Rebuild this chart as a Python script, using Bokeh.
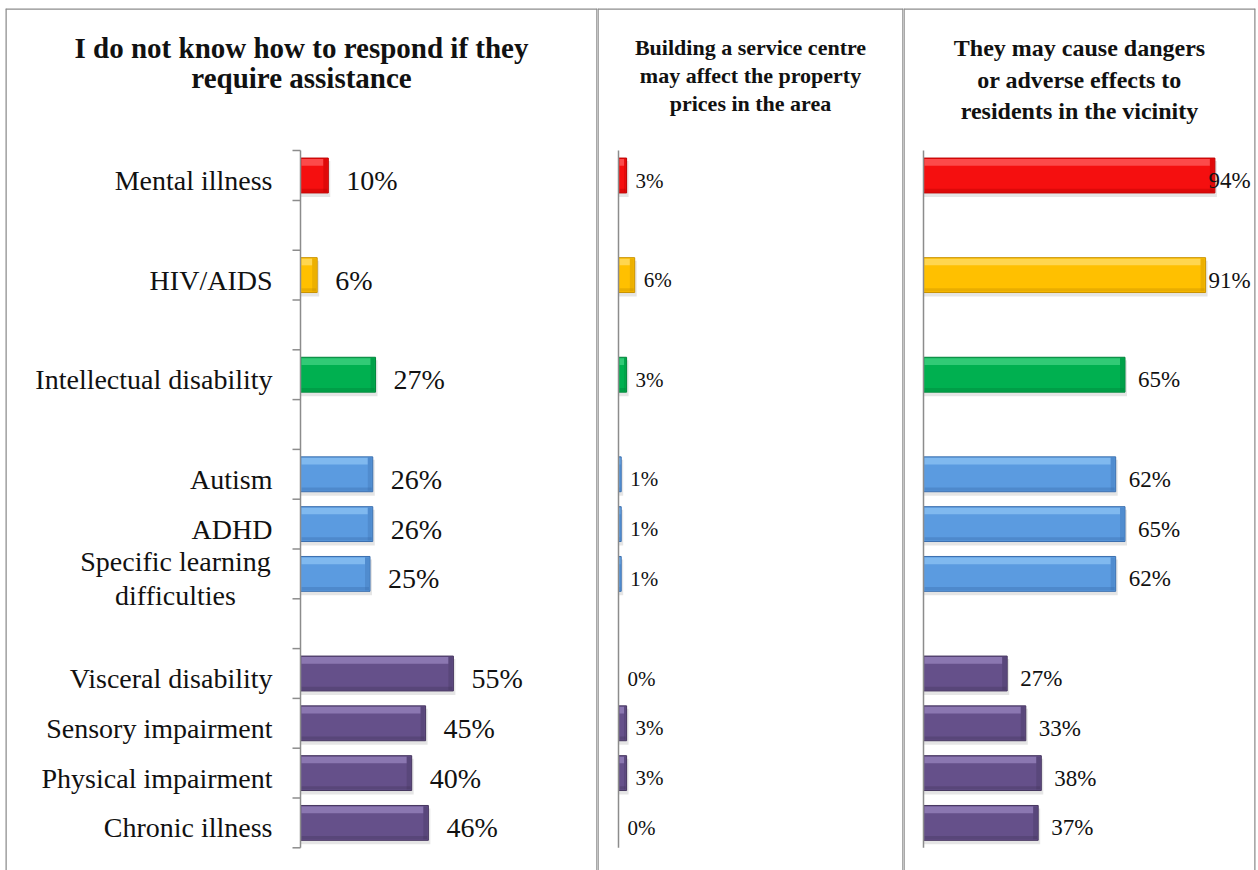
from bokeh.plotting import figure
from bokeh.layouts import row
from bokeh.models import Range1d, ColumnDataSource
from bokeh.core.properties import value
from bokeh.embed import file_html
from bokeh.resources import INLINE

# ---------------- data ----------------
categories = ["Mental illness", "HIV/AIDS", "Intellectual disability", "Autism", "ADHD",
              "Specific learning\ndifficulties", "Visceral disability", "Sensory impairment",
              "Physical impairment", "Chronic illness"]
groups = ["Mental illness", "HIV/AIDS", "Intellectual disability",
          "Developmental", "Developmental", "Developmental",
          "Physical", "Physical", "Physical", "Physical"]
assist_pct = [10, 6, 27, 26, 26, 25, 55, 45, 40, 46]
property_pct = [3, 6, 3, 1, 1, 1, 0, 3, 3, 0]
danger_pct = [94, 91, 65, 62, 65, 62, 27, 33, 38, 37]

title_assist = ["I do not know how to respond if they", "require assistance"]
title_property = ["Building a service centre", "may affect the property", "prices in the area"]
title_danger = ["They may cause dangers", "or adverse effects to", "residents in the vicinity"]

group_colors = {
    "Mental illness": ("#F50F0F", "#FF6A6A", "#B80000"),
    "HIV/AIDS": ("#FFC000", "#FFE27A", "#C99200"),
    "Intellectual disability": ("#00B050", "#4CD88A", "#00843A"),
    "Developmental": ("#5B9BE0", "#95C9F7", "#3B6FAE"),
    "Physical": ("#65508A", "#A08CC6", "#46365F"),
}

# ---------------- layout helpers ----------------
FONT = "Liberation Serif"
FIG_H = 870
TOP_ABS = 8
SLOT_PX = 49.8
FIRST_CENTER_ABS = 175.0
BORDER = "#8C8C8C"


def py(abs_y):
    return (abs_y - FIRST_CENTER_ABS) / SLOT_PX


slots = []
s = 0
prev = None
for g in groups:
    if prev is not None and g != prev:
        s += 1
    slots.append(s)
    s += 1
    prev = g
n_slots = slots[-1] + 1

BAR_H = 0.70


def make_panel(frame_left, frame_width, border_l, border_r, axis_abs, px_per_pct, vals,
               title_lines, title_ys, title_size, label_size, label_gap,
               show_cats=False, show_ticks=False, clamp_right=None):
    axis_px = axis_abs - frame_left
    x0 = -axis_px / px_per_pct
    x1 = (frame_width - axis_px) / px_per_pct
    y_bot, y_top = py(FIG_H), py(TOP_ABS)
    p = figure(width=frame_width + border_l + border_r, height=FIG_H, output_backend="svg",
               toolbar_location=None,
               x_range=Range1d(x0, x1),
               y_range=Range1d(y_bot, y_top),
               min_border=0, min_border_left=border_l, min_border_right=border_r,
               min_border_top=TOP_ABS, min_border_bottom=0)
    p.xaxis.visible = False
    p.yaxis.visible = False
    p.grid.visible = False
    p.outline_line_color = None
    p.background_fill_color = "white"
    p.border_fill_color = "white"

    # panel frame: left, top and right edges (the bottom runs off the page)
    p.segment(x0=[x0, x0, x1], y0=[y_bot, y_top, y_top], x1=[x0, x1, x1], y1=[y_top, y_top, y_bot],
              line_color=BORDER, line_width=2.5)

    ppx = 1.0 / px_per_pct          # one pixel in x data units
    ppy = 1.0 / SLOT_PX              # one pixel in y data units

    # bars with bevel-like shading
    L, R, T, B = [], [], [], []
    base, light, dark = [], [], []
    for v, sl, g in zip(vals, slots, groups):
        if v <= 0:
            continue
        L.append(0); R.append(v); T.append(sl - BAR_H / 2); B.append(sl + BAR_H / 2)
        c = group_colors[g]
        base.append(c[0]); light.append(c[1]); dark.append(c[2])
    src = ColumnDataSource(dict(l=L, r=R, t=T, b=B, base=base, light=light, dark=dark))
    shadow = ColumnDataSource(dict(l=[0] * len(L), r=[r + 2 * ppx for r in R],
                                   t=[t + 3 * ppy for t in T], b=[b + 4 * ppy for b in B]))
    p.quad(left="l", right="r", top="t", bottom="b", source=shadow,
           fill_color="#000000", fill_alpha=0.10, line_color=None)
    p.quad(left="l", right="r", top="t", bottom="b", source=src,
           fill_color="base", line_color="dark", line_width=1)
    band = BAR_H * 0.22
    hi = ColumnDataSource(dict(l=[l + ppx for l in L],
                               r=[r - min(5 * ppx, (r - l) * 0.3) for l, r in zip(L, R)],
                               t=[t + ppy for t in T], b=[t + band for t in T], c=light))
    p.quad(left="l", right="r", top="t", bottom="b", source=hi,
           fill_color="c", fill_alpha=0.65, line_color=None)
    lo = ColumnDataSource(dict(l=[l + ppx for l in L], r=[r - ppx for r in R],
                               t=[b - band * 0.55 for b in B], b=[b - ppy for b in B], c=dark))
    p.quad(left="l", right="r", top="t", bottom="b", source=lo,
           fill_color="c", fill_alpha=0.40, line_color=None)
    end = ColumnDataSource(dict(l=[r - min(5 * ppx, (r - l) * 0.3) for l, r in zip(L, R)],
                                r=[r - ppx for r in R],
                                t=[t + ppy for t in T], b=[b - ppy for b in B], c=dark))
    p.quad(left="l", right="r", top="t", bottom="b", source=end,
           fill_color="c", fill_alpha=0.35, line_color=None)

    # axis line
    p.segment(x0=[0], x1=[0], y0=[-0.5], y1=[n_slots - 0.5], line_color=BORDER, line_width=1.5)
    if show_ticks:
        ty = [k - 0.5 for k in range(n_slots + 1)]
        p.segment(x0=[-8 * ppx] * len(ty), x1=[0] * len(ty), y0=ty, y1=ty,
                  line_color=BORDER, line_width=1.5)

    # value labels
    lx, ly, lt, la = [], [], [], []
    for v, sl in zip(vals, slots):
        if clamp_right is not None and v + (label_gap + 44) * ppx > clamp_right:
            lx.append(clamp_right); la.append("right")
        else:
            lx.append(v + label_gap * ppx); la.append("left")
        ly.append(sl); lt.append(f"{v}%")
    lsrc = ColumnDataSource(dict(x=lx, y=ly, t=lt, a=la))
    p.text(x="x", y="y", text="t", source=lsrc, text_align="a", text_baseline="middle",
           y_offset=5, text_font=value(FONT), text_font_size=f"{label_size}px", text_color="#111111")

    # category labels (multi-line labels centred on their own block)
    if show_cats:
        cx_off, c_al = [], []
        for c in categories:
            if "\n" in c:
                cx_off.append(-28 - 97); c_al.append("center")
            else:
                cx_off.append(-28); c_al.append("right")
        csrc = ColumnDataSource(dict(x=[0] * len(categories), y=slots, t=categories,
                                     xo=cx_off, a=c_al))
        p.text(x="x", y="y", text="t", source=csrc, text_align="a", text_baseline="middle",
               x_offset="xo", y_offset=5, text_font=value(FONT), text_font_size="28px",
               text_color="#111111", text_line_height=1.1)

    # title
    xc = (x0 + x1) / 2
    tsrc = ColumnDataSource(dict(x=[xc] * len(title_lines), y=[py(v) for v in title_ys],
                                 t=title_lines))
    p.text(x="x", y="y", text="t", source=tsrc, text_align="center", text_baseline="middle",
           text_font=value(FONT), text_font_size=f"{title_size}px", text_font_style="bold",
           text_color="#111111")
    return p


p1 = make_panel(5, 592, 5, 0, 300, 2.78, assist_pct, title_assist, [47, 77], 29, 28, 18,
                show_cats=True, show_ticks=True)
p2 = make_panel(597, 306, 0, 0, 618, 2.7, property_pct, title_property, [47, 75, 103], 22, 21, 9)
p3 = make_panel(903, 352, 0, 3, 923, 3.1, danger_pct, title_danger, [47, 79, 110], 24, 23, 13,
                clamp_right=105.5)

layout = row(p1, p2, p3, spacing=0)
open("out.html", "w").write(file_html(layout, INLINE))
